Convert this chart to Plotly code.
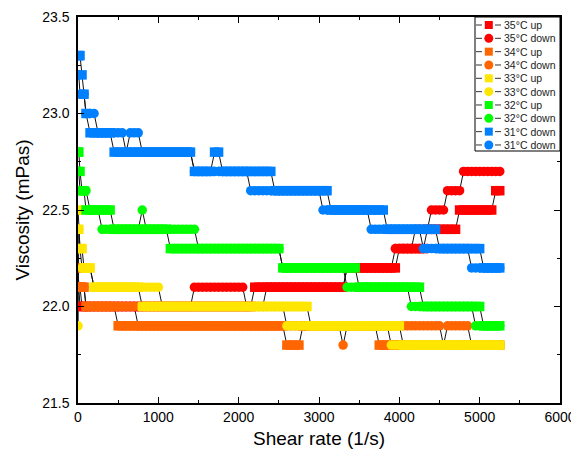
import plotly.graph_objects as go

# Shared shear-rate grid (1/s)
shear_rate = [1, 10, 25, 50, 75, 100, 150, 200, 250, 300,
              350, 400, 450, 500, 550, 600, 650, 700, 750, 800,
              850, 900, 950, 1000, 1050, 1100, 1150, 1200, 1250, 1300,
              1350, 1400, 1450, 1500, 1550, 1600, 1650, 1700, 1750, 1800,
              1850, 1900, 1950, 2000, 2050, 2100, 2150, 2200, 2250, 2300,
              2350, 2400, 2450, 2500, 2550, 2600, 2650, 2700, 2750, 2800,
              2850, 2900, 2950, 3000, 3050, 3100, 3150, 3200, 3250, 3300,
              3350, 3400, 3450, 3500, 3550, 3600, 3650, 3700, 3750, 3800,
              3850, 3900, 3950, 4000, 4050, 4100, 4150, 4200, 4250, 4300,
              4350, 4400, 4450, 4500, 4550, 4600, 4650, 4700, 4750, 4800,
              4850, 4900, 4950, 5000, 5050, 5100, 5150, 5200, 5250]

visc_35_up = [22.2, 22.1, 22.1, 22.0, 22.0, 22.0, 22.0, 22.0, 22.0, 22.0,
              22.0, 22.0, 22.0, 22.0, 22.0, 22.0, 22.0, 22.0, 22.0, 22.0,
              22.0, 22.0, 22.0, 22.0, 22.0, 22.0, 22.0, 22.0, 22.0, 22.0,
              22.0, 22.0, 22.0, 22.0, 22.0, 22.0, 22.0, 22.0, 22.0, 22.0,
              22.0, 22.0, 22.0, 22.0, 22.0, 22.0, 22.0, 22.1, 22.1, 22.1,
              22.1, 22.1, 22.1, 22.1, 22.1, 22.1, 22.1, 22.1, 22.1, 22.1,
              22.1, 22.1, 22.1, 22.1, 22.1, 22.1, 22.1, 22.1, 22.1, 22.1,
              22.2, 22.2, 22.2, 22.2, 22.2, 22.2, 22.2, 22.2, 22.2, 22.2,
              22.2, 22.2, 22.2, 22.3, 22.3, 22.3, 22.3, 22.3, 22.3, 22.3,
              22.4, 22.4, 22.4, 22.4, 22.4, 22.4, 22.4, 22.4, 22.5, 22.5,
              22.5, 22.5, 22.5, 22.5, 22.5, 22.5, 22.5, 22.6, 22.6]

visc_35_down = [22.1, 22.1, 22.0, 22.0, 22.0, 22.0, 22.0, 22.0, 22.0, 22.0,
                22.0, 22.0, 22.0, 22.0, 22.0, 22.0, 22.0, 22.0, 22.0, 22.0,
                22.0, 22.0, 22.0, 22.0, 22.0, 22.0, 22.0, 22.0, 22.0, 22.0,
                22.0, 22.0, 22.1, 22.1, 22.1, 22.1, 22.1, 22.1, 22.1, 22.1,
                22.1, 22.1, 22.1, 22.1, 22.1, 22.0, 22.0, 22.0, 22.0, 22.0,
                22.1, 22.1, 22.1, 22.1, 22.1, 22.1, 22.1, 22.1, 22.1, 22.1,
                22.1, 22.1, 22.1, 22.1, 22.1, 22.1, 22.1, 22.1, 22.1, 22.1,
                22.2, 22.2, 22.2, 22.2, 22.2, 22.2, 22.2, 22.2, 22.2, 22.2,
                22.2, 22.2, 22.3, 22.3, 22.3, 22.3, 22.3, 22.4, 22.4, 22.4,
                22.4, 22.5, 22.5, 22.5, 22.5, 22.6, 22.6, 22.6, 22.6, 22.7,
                22.7, 22.7, 22.7, 22.7, 22.7, 22.7, 22.7, 22.7, 22.7]

visc_34_up = [22.2, 22.1, 22.1, 22.1, 22.1, 22.0, 22.0, 22.0, 22.0, 22.0,
              22.0, 22.0, 22.0, 21.9, 21.9, 21.9, 21.9, 21.9, 21.9, 21.9,
              21.9, 21.9, 21.9, 21.9, 21.9, 21.9, 21.9, 21.9, 21.9, 21.9,
              21.9, 21.9, 21.9, 21.9, 21.9, 21.9, 21.9, 21.9, 21.9, 21.9,
              21.9, 21.9, 21.9, 21.9, 21.9, 21.9, 21.9, 21.9, 21.9, 21.9,
              21.9, 21.9, 21.9, 21.9, 21.9, 21.8, 21.8, 21.8, 21.8, 21.9,
              21.9, 21.9, 21.9, 21.9, 21.9, 21.9, 21.9, 21.9, 21.9, 21.9,
              21.9, 21.9, 21.9, 21.9, 21.9, 21.9, 21.9, 21.9, 21.8, 21.8,
              21.8, 21.8, 21.8, 21.8, 21.8, 21.8, 21.8, 21.8, 21.8, 21.8,
              21.8, 21.8, 21.8, 21.8, 21.8, 21.8, 21.8, 21.8, 21.8, 21.8,
              21.8, 21.8, 21.8, 21.8, 21.8, 21.8, 21.8, 21.8, 21.8]

visc_34_down = [22.1, 22.1, 22.1, 22.1, 22.1, 22.0, 22.0, 22.0, 22.0, 22.0,
                22.0, 22.0, 22.0, 22.0, 22.0, 22.0, 22.0, 22.0, 21.9, 21.9,
                21.9, 21.9, 21.9, 21.9, 21.9, 21.9, 21.9, 21.9, 21.9, 21.9,
                21.9, 21.9, 21.9, 21.9, 21.9, 21.9, 21.9, 21.9, 21.9, 21.9,
                21.9, 21.9, 21.9, 21.9, 21.9, 21.9, 21.9, 21.9, 21.9, 21.9,
                21.9, 21.9, 21.9, 21.9, 21.9, 21.9, 21.9, 21.9, 21.9, 21.9,
                21.9, 21.9, 21.9, 21.9, 21.9, 21.9, 21.9, 21.9, 21.9, 21.8,
                21.9, 21.9, 21.9, 21.9, 21.9, 21.9, 21.9, 21.9, 21.9, 21.9,
                21.9, 21.9, 21.9, 21.9, 21.9, 21.9, 21.9, 21.9, 21.9, 21.9,
                21.9, 21.9, 21.9, 21.9, 21.8, 21.9, 21.9, 21.9, 21.9, 21.9,
                21.9, 21.8, 21.8, 21.8, 21.8, 21.8, 21.8, 21.8, 21.8]

visc_33_up = [22.5, 22.4, 22.3, 22.3, 22.2, 22.2, 22.2, 22.1, 22.1, 22.1,
              22.1, 22.1, 22.1, 22.1, 22.1, 22.1, 22.1, 22.1, 22.1, 22.0,
              22.0, 22.0, 22.0, 22.0, 22.0, 22.0, 22.0, 22.0, 22.0, 22.0,
              22.0, 22.0, 22.0, 22.0, 22.0, 22.0, 22.0, 22.0, 22.0, 22.0,
              22.0, 22.0, 22.0, 22.0, 22.0, 22.0, 22.0, 22.0, 22.0, 22.0,
              22.0, 22.0, 22.0, 22.0, 22.0, 22.0, 22.0, 22.0, 22.0, 22.0,
              22.0, 21.9, 21.9, 21.9, 21.9, 21.9, 21.9, 21.9, 21.9, 21.9,
              21.9, 21.9, 21.9, 21.9, 21.9, 21.9, 21.9, 21.9, 21.9, 21.9,
              21.9, 21.9, 21.9, 21.9, 21.8, 21.8, 21.8, 21.8, 21.8, 21.8,
              21.8, 21.8, 21.8, 21.8, 21.8, 21.8, 21.8, 21.8, 21.8, 21.8,
              21.8, 21.8, 21.8, 21.8, 21.8, 21.8, 21.8, 21.8, 21.8]

visc_33_down = [21.9, 22.4, 22.3, 22.2, 22.2, 22.2, 22.2, 22.1, 22.1, 22.1,
                22.1, 22.1, 22.1, 22.1, 22.1, 22.1, 22.1, 22.1, 22.1, 22.1,
                22.1, 22.1, 22.1, 22.1, 22.0, 22.0, 22.0, 22.0, 22.0, 22.0,
                22.0, 22.0, 22.0, 22.0, 22.0, 22.0, 22.0, 22.0, 22.0, 22.0,
                22.0, 22.0, 22.0, 22.0, 22.0, 22.0, 22.0, 22.0, 22.0, 22.0,
                22.0, 22.0, 22.0, 22.0, 22.0, 21.9, 21.9, 21.9, 21.9, 21.9,
                21.9, 21.9, 21.9, 21.9, 21.9, 21.9, 21.9, 21.9, 21.9, 21.9,
                21.9, 21.9, 21.9, 21.9, 21.9, 21.9, 21.9, 21.9, 21.9, 21.9,
                21.9, 21.8, 21.8, 21.8, 21.8, 21.8, 21.8, 21.8, 21.8, 21.8,
                21.8, 21.8, 21.8, 21.8, 21.8, 21.8, 21.8, 21.8, 21.8, 21.8,
                21.8, 21.8, 21.8, 21.8, 21.8, 21.8, 21.8, 21.8, 21.8]

visc_32_up = [22.8, 22.8, 22.7, 22.6, 22.6, 22.5, 22.5, 22.5, 22.5, 22.5,
              22.5, 22.5, 22.4, 22.4, 22.4, 22.4, 22.4, 22.4, 22.4, 22.4,
              22.4, 22.4, 22.4, 22.4, 22.4, 22.4, 22.3, 22.3, 22.3, 22.3,
              22.3, 22.3, 22.3, 22.3, 22.3, 22.3, 22.3, 22.3, 22.3, 22.3,
              22.3, 22.3, 22.3, 22.3, 22.3, 22.3, 22.3, 22.3, 22.3, 22.3,
              22.3, 22.3, 22.3, 22.3, 22.2, 22.2, 22.2, 22.2, 22.2, 22.2,
              22.2, 22.2, 22.2, 22.2, 22.2, 22.2, 22.2, 22.2, 22.2, 22.2,
              22.2, 22.2, 22.2, 22.1, 22.1, 22.1, 22.1, 22.1, 22.1, 22.1,
              22.1, 22.1, 22.1, 22.1, 22.1, 22.1, 22.1, 22.1, 22.1, 22.0,
              22.0, 22.0, 22.0, 22.0, 22.0, 22.0, 22.0, 22.0, 22.0, 22.0,
              22.0, 22.0, 22.0, 22.0, 21.9, 21.9, 21.9, 21.9, 21.9]

visc_32_down = [22.7, 22.7, 22.6, 22.6, 22.6, 22.6, 22.5, 22.5, 22.5, 22.4,
                22.4, 22.4, 22.4, 22.4, 22.4, 22.4, 22.4, 22.4, 22.4, 22.5,
                22.4, 22.4, 22.4, 22.4, 22.4, 22.4, 22.4, 22.4, 22.4, 22.4,
                22.4, 22.4, 22.4, 22.3, 22.3, 22.3, 22.3, 22.3, 22.3, 22.3,
                22.3, 22.3, 22.3, 22.3, 22.3, 22.3, 22.3, 22.3, 22.3, 22.3,
                22.3, 22.3, 22.3, 22.3, 22.2, 22.2, 22.2, 22.2, 22.2, 22.2,
                22.2, 22.2, 22.2, 22.2, 22.2, 22.2, 22.2, 22.2, 22.2, 22.2,
                22.1, 22.1, 22.1, 22.1, 22.1, 22.1, 22.1, 22.1, 22.1, 22.1,
                22.1, 22.1, 22.1, 22.1, 22.1, 22.1, 22.0, 22.0, 22.0, 22.0,
                22.0, 22.0, 22.0, 22.0, 22.0, 22.0, 22.0, 22.0, 22.0, 22.0,
                22.0, 22.0, 21.9, 21.9, 21.9, 21.9, 21.9, 21.9, 21.9]

visc_31_down_a = [23.3, 23.3, 23.3, 23.2, 23.1, 23.0, 22.9, 22.9, 22.9, 22.9,
                  22.9, 22.9, 22.8, 22.8, 22.8, 22.8, 22.8, 22.8, 22.8, 22.8,
                  22.8, 22.8, 22.8, 22.8, 22.8, 22.8, 22.8, 22.8, 22.8, 22.8,
                  22.8, 22.8, 22.7, 22.7, 22.7, 22.7, 22.7, 22.8, 22.8, 22.7,
                  22.7, 22.7, 22.7, 22.7, 22.7, 22.7, 22.7, 22.7, 22.7, 22.7,
                  22.7, 22.7, 22.6, 22.6, 22.6, 22.6, 22.6, 22.6, 22.6, 22.6,
                  22.6, 22.6, 22.6, 22.6, 22.6, 22.6, 22.5, 22.5, 22.5, 22.5,
                  22.5, 22.5, 22.5, 22.5, 22.5, 22.5, 22.5, 22.5, 22.5, 22.5,
                  22.4, 22.4, 22.4, 22.4, 22.4, 22.4, 22.4, 22.4, 22.4, 22.4,
                  22.4, 22.4, 22.4, 22.3, 22.3, 22.3, 22.3, 22.3, 22.3, 22.3,
                  22.3, 22.3, 22.3, 22.3, 22.2, 22.2, 22.2, 22.2, 22.2]

visc_31_down_b = [23.2, 23.2, 23.1, 23.1, 23.1, 23.0, 23.0, 23.0, 22.9, 22.9,
                  22.9, 22.9, 22.9, 22.9, 22.9, 22.8, 22.9, 22.9, 22.9, 22.8,
                  22.8, 22.8, 22.8, 22.8, 22.8, 22.8, 22.8, 22.8, 22.8, 22.8,
                  22.8, 22.8, 22.7, 22.7, 22.7, 22.7, 22.7, 22.7, 22.7, 22.7,
                  22.7, 22.7, 22.7, 22.7, 22.7, 22.7, 22.6, 22.6, 22.6, 22.6,
                  22.6, 22.6, 22.6, 22.6, 22.6, 22.6, 22.6, 22.6, 22.6, 22.6,
                  22.6, 22.6, 22.6, 22.6, 22.5, 22.5, 22.5, 22.5, 22.5, 22.5,
                  22.5, 22.5, 22.5, 22.5, 22.5, 22.5, 22.4, 22.4, 22.4, 22.4,
                  22.4, 22.4, 22.4, 22.4, 22.4, 22.4, 22.4, 22.4, 22.4, 22.3,
                  22.3, 22.3, 22.3, 22.3, 22.3, 22.3, 22.3, 22.3, 22.3, 22.3,
                  22.3, 22.2, 22.2, 22.2, 22.2, 22.2, 22.2, 22.2, 22.2]

series_names = ["35°C up", "35°C down", "34°C up", "34°C down", "33°C up",
                "33°C down", "32°C up", "32°C down", "31°C down", "31°C down"]
series_values = [visc_35_up, visc_35_down, visc_34_up, visc_34_down, visc_33_up,
                 visc_33_down, visc_32_up, visc_32_down, visc_31_down_a, visc_31_down_b]
series_colors = ["#FF0000", "#FF0000", "#FF6600", "#FF6600", "#FFE600",
                 "#FFE600", "#00FF00", "#00FF00", "#0080FF", "#0080FF"]
series_symbols = ["square", "circle", "square", "circle", "square",
                  "circle", "square", "circle", "square", "circle"]

x_ticks = [0, 1000, 2000, 3000, 4000, 5000, 6000]
y_ticks = [21.5, 22.0, 22.5, 23.0, 23.5]
X_RANGE = [0, 6000]
Y_RANGE = [21.5, 23.5]

FONT = "Arial, Liberation Sans, sans-serif"
OFF = 8  # page body margin in the browser
W, H = 571, 449
# target plot frame in window pixels: x 78..560, y 17..403
ML = 78 - OFF
MT = 17 - OFF
MR = W - (560 - OFF)
MB = H - (403 - OFF)
PW, PH = W - ML - MR, H - MT - MB

fig = go.Figure()

# thin black connecting lines on the base axes (beneath every symbol)
for vals in series_values:
    fig.add_trace(go.Scatter(x=shear_rate, y=vals, mode="lines",
                             line=dict(color="#111111", width=1),
                             showlegend=False, hoverinfo="skip",
                             xaxis="x", yaxis="y"))

# symbols on an overlaid copy of the axes, so they sit above all lines
for name, vals, col, sym in zip(series_names, series_values, series_colors, series_symbols):
    fig.add_trace(go.Scatter(x=shear_rate, y=vals, mode="markers", name=name,
                             marker=dict(color=col, symbol=sym, size=9.5, opacity=1,
                                         line=dict(width=0)),
                             showlegend=False, xaxis="x2", yaxis="y2"))

def px2x(px):
    return (px - OFF - ML) / PW

def py2y(py):
    return (H - MB - (py - OFF)) / PH

shapes = []
annotations = []
shapes.append(dict(type="rect", xref="paper", yref="paper",
                   x0=px2x(475), x1=1.0, y0=py2y(151), y1=1.0,
                   line=dict(color="#000000", width=1), fillcolor="white",
                   layer="above"))
for i, (name, col, sym) in enumerate(zip(series_names, series_colors, series_symbols)):
    cy = 25 + 13.33 * i
    yy = py2y(cy)
    for a, b in ((476, 482), (495, 501)):
        shapes.append(dict(type="line", xref="paper", yref="paper",
                           x0=px2x(a), x1=px2x(b), y0=yy, y1=yy,
                           line=dict(color="#333333", width=1), layer="above"))
    half = 4 if sym == "square" else 4.5
    shapes.append(dict(type="rect" if sym == "square" else "circle",
                       xref="paper", yref="paper",
                       xsizemode="pixel", ysizemode="pixel",
                       xanchor=px2x(488.8), yanchor=yy,
                       x0=-half, x1=half, y0=-half, y1=half,
                       fillcolor=col, line=dict(width=0), layer="above"))
    annotations.append(dict(text=name, xref="paper", yref="paper",
                            x=px2x(503), y=yy, xanchor="left", yanchor="middle",
                            showarrow=False, borderpad=0,
                            font=dict(family=FONT, size=10.5, color="#222222")))

axis_common = dict(showline=True, linecolor="black", linewidth=1.5, mirror="ticks",
                   ticks="inside", ticklen=6, tickwidth=1, tickcolor="black",
                   showgrid=False, zeroline=False, automargin=False,
                   tickfont=dict(family=FONT, size=14, color="black"))

fig.update_layout(
    width=W, height=H,
    margin=dict(l=ML, r=MR, t=MT, b=MB),
    paper_bgcolor="white", plot_bgcolor="white",
    showlegend=False,
    shapes=shapes, annotations=annotations,
    xaxis=dict(range=X_RANGE, tickvals=x_ticks,
               ticktext=[str(v) for v in x_ticks],
               minor=dict(ticks="inside", ticklen=3, tickwidth=1, tickcolor="black",
                          dtick=500, tick0=0),
               title=dict(text="Shear rate (1/s)", standoff=8,
                          font=dict(family=FONT, size=19, color="black")),
               **axis_common),
    yaxis=dict(range=Y_RANGE, tickvals=y_ticks,
               ticktext=["%.1f" % v for v in y_ticks],
               ticklabelstandoff=4,
               minor=dict(ticks="inside", ticklen=3, tickwidth=1, tickcolor="black",
                          dtick=0.25, tick0=21.5),
               title=dict(text="Viscosity (mPas)", standoff=8,
                          font=dict(family=FONT, size=19, color="black")),
               **axis_common),
    xaxis2=dict(range=X_RANGE, overlaying="x", visible=False, automargin=False),
    yaxis2=dict(range=Y_RANGE, overlaying="y", visible=False, automargin=False),
)

fig.write_html("out.html")
